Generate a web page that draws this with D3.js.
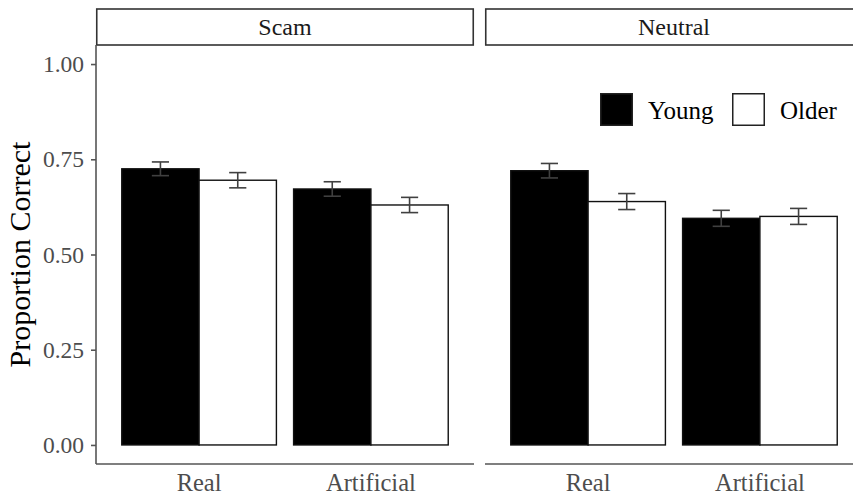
<!DOCTYPE html>
<html>
<head>
<meta charset="utf-8">
<script src="https://cdn.jsdelivr.net/npm/d3@7"></script>
<style>
  body { margin: 0; background: #fff; }
  svg { display: block; }
  text { font-family: "Liberation Serif", "Times New Roman", serif; }
</style>
</head>
<body>
<div id="chart-area"></div>
<script>
// data
var panels = ["Scam", "Neutral"];
var stimuli = ["Real", "Artificial"];
var groups = ["Young", "Older"];
// order: Scam-Real, Scam-Artificial, Neutral-Real, Neutral-Artificial
var youngMean = [0.725, 0.672, 0.720, 0.595];
var olderMean = [0.695, 0.630, 0.639, 0.600];
var youngSE = [0.018, 0.019, 0.019, 0.021];
var olderSE = [0.020, 0.020, 0.021, 0.021];
var yTicks = [0, 0.25, 0.5, 0.75, 1];

var W = 853, H = 495;
var margin = { left: 96, top: 9, bottom: 31 };
var panelW = 378, panelGap = 11, stripH = 36;
var plotTop = margin.top + stripH, plotBottom = H - margin.bottom;

var svg = d3.select("#chart-area").append("svg")
    .attr("width", W)
    .attr("height", H);

var rows = [];
panels.forEach(function(p, pi) {
    stimuli.forEach(function(s, si) {
        var k = pi * 2 + si;
        rows.push({ panel: p, stim: s, group: "Young", mean: youngMean[k], se: youngSE[k] });
        rows.push({ panel: p, stim: s, group: "Older", mean: olderMean[k], se: olderSE[k] });
    });
});

var y = d3.scaleLinear().domain([-0.05, 1.05]).range([plotBottom, plotTop]);
var x = d3.scaleBand().domain(stimuli).range([0, panelW])
    .paddingInner(0.1).paddingOuter(0.15);
var xg = d3.scaleBand().domain(groups).range([0, x.bandwidth()]).padding(0);
var fill = d3.scaleOrdinal().domain(groups).range(["#000000", "#ffffff"]);

panels.forEach(function(p, pi) {
    var g = svg.append("g")
        .attr("transform", "translate(" + (margin.left + pi * (panelW + panelGap)) + ",0)");

    // strip
    g.append("rect")
        .attr("x", 0.75).attr("y", margin.top)
        .attr("width", panelW - 1.5).attr("height", stripH)
        .attr("fill", "#fff").attr("stroke", "#333").attr("stroke-width", 1.6);
    g.append("text")
        .attr("x", panelW / 2).attr("y", margin.top + stripH / 2 + 8)
        .attr("text-anchor", "middle")
        .attr("font-size", "24px")
        .attr("fill", "#1a1a1a")
        .text(p);

    var data = rows.filter(function(d) { return d.panel == p; });

    // bars
    g.selectAll("rect.bar").data(data).enter().append("rect")
        .attr("class", "bar")
        .attr("x", function(d) { return x(d.stim) + xg(d.group); })
        .attr("y", function(d) { return y(d.mean); })
        .attr("width", xg.bandwidth())
        .attr("height", function(d) { return y(0) - y(d.mean); })
        .attr("fill", function(d) { return fill(d.group); })
        .attr("stroke", "#111")
        .attr("stroke-width", 1.4);

    // error bars
    var capW = x.step() * 0.1;
    var eb = g.selectAll("g.err").data(data).enter().append("g")
        .attr("class", "err")
        .attr("stroke", "#404040")
        .attr("stroke-width", 1.6);
    eb.append("line")
        .attr("x1", function(d) { return x(d.stim) + xg(d.group) + xg.bandwidth() / 2; })
        .attr("x2", function(d) { return x(d.stim) + xg(d.group) + xg.bandwidth() / 2; })
        .attr("y1", function(d) { return y(d.mean - d.se); })
        .attr("y2", function(d) { return y(d.mean + d.se); });
    [-1, 1].forEach(function(sgn) {
        eb.append("line")
            .attr("x1", function(d) { return x(d.stim) + xg(d.group) + xg.bandwidth() / 2 - capW / 2; })
            .attr("x2", function(d) { return x(d.stim) + xg(d.group) + xg.bandwidth() / 2 + capW / 2; })
            .attr("y1", function(d) { return y(d.mean + sgn * d.se); })
            .attr("y2", function(d) { return y(d.mean + sgn * d.se); });
    });

    // x axis
    var xAxis = g.append("g")
        .attr("transform", "translate(0," + plotBottom + ")")
        .call(d3.axisBottom(x).tickSize(0).tickPadding(10));
    xAxis.select(".domain").attr("stroke", "#555").attr("stroke-width", 1.6).attr("d", "M0,0H" + panelW);
    xAxis.selectAll("text").attr("font-size", "24.5px").attr("fill", "#4d4d4d");

    // y axis only on first panel
    if (pi == 0) {
        var yAxis = g.append("g")
            .call(d3.axisLeft(y).tickValues(yTicks).tickFormat(d3.format(".2f"))
                .tickSize(5).tickSizeOuter(0).tickPadding(7));
        yAxis.select(".domain").attr("stroke", "#555").attr("stroke-width", 1.6)
            .attr("d", "M0," + plotTop + "V" + plotBottom);
        yAxis.selectAll(".tick line").attr("stroke", "#555").attr("stroke-width", 1.6);
        yAxis.selectAll("text").attr("font-size", "23.5px").attr("fill", "#4d4d4d");
    }
});

// Y label
svg.append("text")
    .attr("transform", "translate(30," + ((plotTop + plotBottom) / 2) + ") rotate(-90)")
    .attr("text-anchor", "middle")
    .attr("font-size", "30px")
    .attr("fill", "#000")
    .text("Proportion Correct");

// legend
var legend = svg.append("g").attr("transform", "translate(600,93)");
var legX = [0, 132];
groups.forEach(function(grp, i) {
    var row = legend.append("g").attr("transform", "translate(" + legX[i] + ",0)");
    row.append("rect")
        .attr("x", 0.75).attr("y", 0.75)
        .attr("width", 31.5).attr("height", 31.5)
        .attr("fill", fill(grp))
        .attr("stroke", "#222").attr("stroke-width", 1.5);
    row.append("text")
        .attr("x", 48).attr("y", 26)
        .attr("font-size", "25px")
        .attr("fill", "#000")
        .text(grp);
});
</script>
</body>
</html>
